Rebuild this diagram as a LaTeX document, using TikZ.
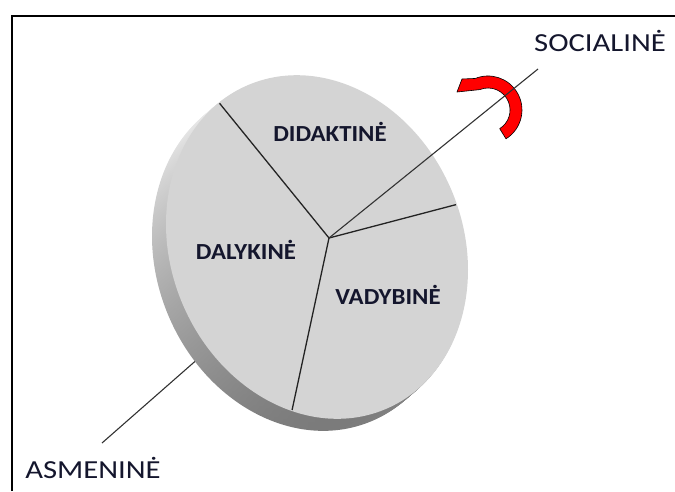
\documentclass[tikz,border=0pt]{standalone}
\usepackage{fontspec}
\setmainfont{Carlito}
\begin{document}
\begin{tikzpicture}[x=1pt,y=-1pt,
  facecol/.style={fill={rgb,255:red,212;green,212;blue,212}},
  divider/.style={draw={rgb,255:red,35;green,35;blue,35},line width=1.3pt},
  axisline/.style={draw={rgb,255:red,50;green,50;blue,50},line width=1.1pt},
  outerlabel/.style={font=\fontsize{26}{30}\selectfont,text={rgb,255:red,20;green,22;blue,45},inner sep=0pt},
  innerlabel/.style={font=\bfseries\fontsize{23}{27}\selectfont,text={rgb,255:red,20;green,22;blue,45},inner sep=0pt},
  discshape/.style={rotate around={23:(317,247)}}]
\useasboundingbox (0,0) rectangle (675,491);
% frame
\draw[line width=2pt] (11.7,491) -- (11.7,15.5) -- (675,15.5);
% coordinates
\coordinate (C) at (329,238);
\coordinate (dA) at (212,94);
\coordinate (dB) at (466,202);
\coordinate (dC) at (291,415);
\coordinate (axTop) at (538,69);
\coordinate (axLowA) at (102,443);
\coordinate (axLowB) at (200,357);
% lower axis (behind disc)
\draw[axisline] (axLowA) -- (axLowB);
% rim (extrusion)
\foreach \i in {14,...,1}{
  \shade[top color={rgb,255:red,242;green,242;blue,242},bottom color={rgb,255:red,115;green,115;blue,115},
    shift={(-\i,0.86*\i)},discshape] (317,247) ellipse[x radius=146,y radius=176];
}
% face
\fill[facecol,discshape] (317,247) ellipse[x radius=146,y radius=176];
% dividers
\begin{scope}
  \clip[discshape] (317,247) ellipse[x radius=145,y radius=175];
  \draw[divider,line cap=round] (dA) -- (C) -- (dB);
  \draw[divider] (C) -- (dC);
\end{scope}
% red rotation arrow
\fill[red,draw=black,line width=0.6pt,line join=round]
  (506,138.8) arc[start angle=58,end angle=-112,radius=34]
  -- (462,79) -- (457,92) -- (479.8,89.6)
  arc[start angle=-112,end angle=58,radius=22] -- cycle;
% upper axis
\draw[axisline] (C) -- (axTop);
% labels
\node[outerlabel] (soc) at (600,41) {\scalebox{1.18}[1]{SOCIALINĖ}};
\node[outerlabel] (asm) at (93,468) {\scalebox{1.18}[1]{ASMENINĖ}};
\node[innerlabel] (did) at (330,132) {\scalebox{1.08}[1]{DIDAKTINĖ}};
\node[innerlabel] (dal) at (246,250) {\scalebox{1.08}[1]{DALYKINĖ}};
\node[innerlabel] (vad) at (388,295) {\scalebox{1.08}[1]{VADYBINĖ}};
\end{tikzpicture}
\end{document}
